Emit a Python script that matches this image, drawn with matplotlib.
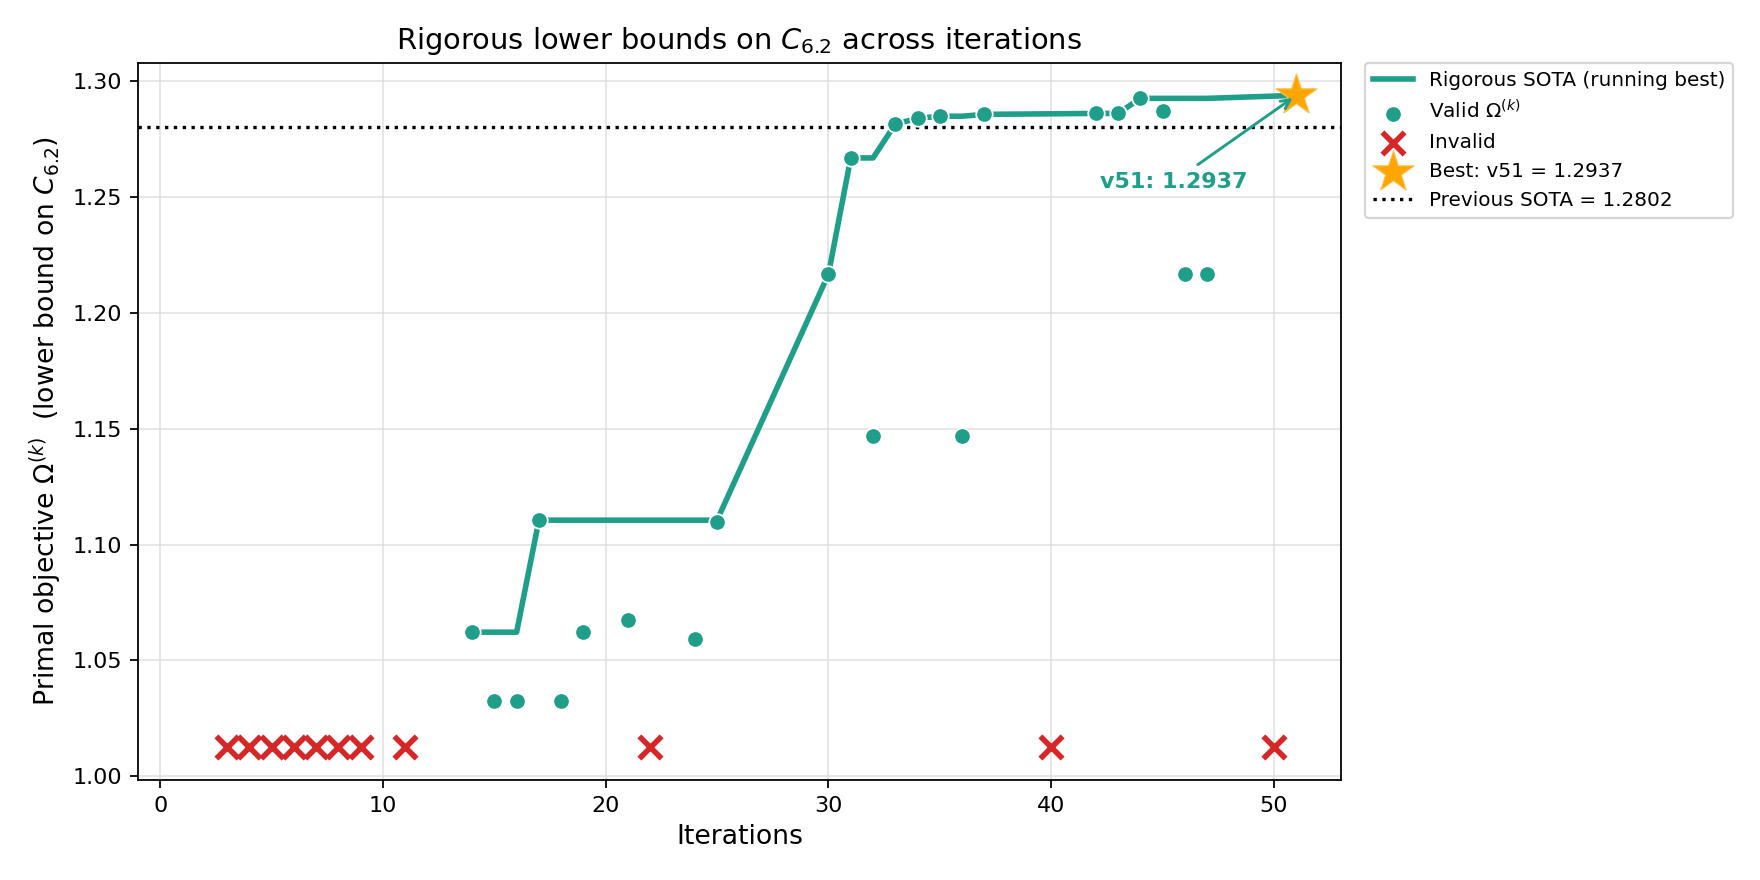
import matplotlib
matplotlib.use("Agg")
import matplotlib.pyplot as plt

# valid iterations and their primal objective
valid_iters = [14, 15, 16, 17, 18, 19, 21, 24, 25, 30, 31, 32, 33, 34, 35, 36, 37,
               42, 43, 44, 45, 46, 47, 51]
valid_vals = [1.0622, 1.0325, 1.0325, 1.1105, 1.0325, 1.0622, 1.0676, 1.0592, 1.1096,
              1.2166, 1.2667, 1.1467, 1.2813, 1.2838, 1.2847, 1.1467, 1.2855,
              1.2859, 1.2859, 1.2924, 1.2868, 1.2166, 1.2166, 1.2937]

# running best over the valid iterations
running_best = [1.0622, 1.0622, 1.0622, 1.1105, 1.1105, 1.1105, 1.1105, 1.1105, 1.1105,
                1.2166, 1.2667, 1.2667, 1.2813, 1.2838, 1.2847, 1.2847, 1.2855,
                1.2859, 1.2859, 1.2924, 1.2924, 1.2924, 1.2924, 1.2937]

# failed iterations, drawn on a floor row
invalid_iters = [3, 4, 5, 6, 7, 8, 9, 11, 22, 40, 50]
invalid_vals = [1.0125] * len(invalid_iters)

best_iter = 51
best_val = 1.2937
prev_sota = 1.2802

TEAL = "#1f9e89"
RED = "#d62728"
ORANGE = "#ffa500"

fig, ax = plt.subplots(figsize=(11, 5.5), dpi=160)
fig.subplots_adjust(left=0.0784, right=0.7618, top=0.9287, bottom=0.1136)

ax.plot(valid_iters, running_best, color=TEAL, lw=2.5, zorder=3,
        label="Rigorous SOTA (running best)")
ax.scatter(valid_iters, valid_vals, s=55, color=TEAL, edgecolors="white",
           linewidths=0.8, zorder=4, label=r"Valid $\Omega^{(k)}$")
ax.scatter(invalid_iters, invalid_vals, s=100, marker="x", color=RED,
           linewidths=2.5, zorder=4, label="Invalid")
ax.scatter([best_iter], [best_val], s=380, marker="*", color=ORANGE,
           edgecolors="#ffc04d", linewidths=0.5, zorder=5,
           label=f"Best: v{best_iter} = {best_val:.4f}")
ax.axhline(prev_sota, color="black", ls=":", lw=1.5, zorder=2,
           label=f"Previous SOTA = {prev_sota:.4f}")

ax.annotate(f"v{best_iter}: {best_val:.4f}", xy=(best_iter, best_val),
            xytext=(45.5, 1.2565), ha="center", va="center",
            fontsize=10, fontweight="bold", color=TEAL,
            arrowprops=dict(arrowstyle="->", color=TEAL, lw=1.3), zorder=6)

ax.set_xlim(-1, 53)
ax.set_yticks([1.00, 1.05, 1.10, 1.15, 1.20, 1.25, 1.30])
ax.grid(True, color="#dddddd", alpha=0.7, lw=0.9)
ax.set_axisbelow(True)

ax.set_title(r"Rigorous lower bounds on $C_{6.2}$ across iterations", fontsize=13)
ax.set_xlabel("Iterations", fontsize=12)
ax.set_ylabel(r"Primal objective $\Omega^{(k)}$  (lower bound on $C_{6.2}$)",
              fontsize=12)

ax.legend(loc="upper left", bbox_to_anchor=(1.02, 1.0), borderaxespad=0,
          fontsize=9)

fig.savefig("out.png", dpi=160)
